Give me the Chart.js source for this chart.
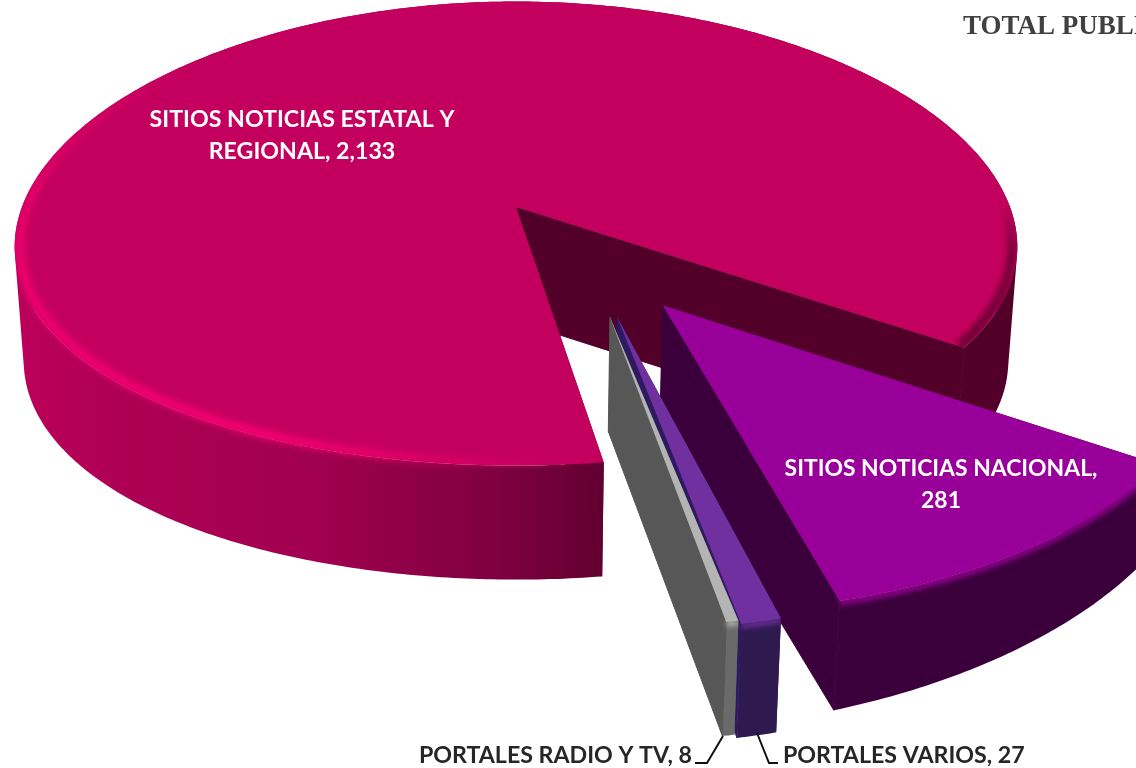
<!DOCTYPE html>
<html><head><meta charset="utf-8">
<style>html,body{margin:0;padding:0;background:#fff;overflow:hidden}canvas{display:block}</style>
<script src="https://cdn.jsdelivr.net/npm/chart.js@4"></script>
</head><body><canvas id="c" width="1136" height="768"></canvas>
<script>
const categories = ['SITIOS NOTICIAS ESTATAL Y REGIONAL','SITIOS NOTICIAS NACIONAL','PORTALES VARIOS','PORTALES RADIO Y TV'];
const values = [2133,281,27,8];
const topColors = ['#C4005E','#990099','#7030A0','#B4B4B4'];
const cutColors = ['#52002A','#3B003B','#2E1A5E','#575757'];
const titleText = 'TOTAL PUBLI';

// projection of the pie disk, and how each slice is pulled out of it
const view = {cx:516, y0:207, R:498, a:229, ky:0.1145, depth:114, shrink:0.018};
const pull = [
  {du:0,    dv:0,    s:1,    sx:0.992, kx:0.17, rot:1.5, dt:0},
  {du:0.283,dv:0.409,s:1.065,sx:1, kx:0.095, rot:0, dt:0.25},
  {du:0.197,dv:0.457,s:1.07, sx:1, kx:0.07, rot:0, dt:0},
  {du:0.181,dv:0.457,s:1.06, sx:1, kx:0.09, rot:0, dt:0}
];
function proj(u,v,z,p){
  return [view.cx + view.R*p.sx*u*(1-view.shrink*z)/(1-p.kx*v),
          view.y0 + view.a*v/(1-view.ky*v) + view.depth*z*(1-p.dt*(u-0.4))];
}
function trace(ctx,pts){ pts.forEach((q,k)=>k?ctx.lineTo(q[0],q[1]):ctx.moveTo(q[0],q[1])); ctx.closePath(); }
function oriented(q){ let s=0; q.forEach((p,i)=>{const r=q[(i+1)%q.length]; s+=p[0]*r[1]-r[0]*p[1];}); return s<0?q.slice().reverse():q; }

const pie3d = {
  id:'pie3d',
  beforeDatasetsDraw(chart){
    const ctx = chart.ctx, arcs = chart.getDatasetMeta(0).data;
    arcs.forEach((el,i)=>{
      const p = pull[i], shift = p.rot*Math.PI/180, a0 = el.startAngle+shift, a1 = el.endAngle+shift;
      const n = Math.max(8,Math.ceil((a1-a0)*90));
      const pt = (r,a,z)=>proj(p.du+r*p.s*Math.cos(a),p.dv+r*p.s*Math.sin(a),z,p);
      const arcAt = (z,r=1)=>{const o=[];for(let k=0;k<=n;k++)o.push(pt(r,a0+(a1-a0)*k/n,z));return o;};
      const apexT = pt(0,0,0), apexB = pt(0,0,1);
      const top = [apexT,...arcAt(0)], rimT = arcAt(0), rimB = arcAt(1);
      const cut0 = [apexT,pt(1,a0,0),pt(1,a0,1),apexB];
      const cut1 = [apexT,pt(1,a1,0),pt(1,a1,1),apexB];
      const wallQuads = [];
      for(let k=0;k<n;k++) wallQuads.push(oriented([rimT[k],rimT[k+1],rimB[k+1],rimB[k]]));
      // hidden cut face, outer wall, then the visible cut face
      ctx.fillStyle = ctx.strokeStyle = cutColors[i]; ctx.lineWidth = 1;
      ctx.beginPath(); trace(ctx,cut0); ctx.fill();
      let wf;
      if(i===0){ wf = ctx.createLinearGradient(14,0,1017,0);
        wf.addColorStop(0,'#BC005B'); wf.addColorStop(0.1,'#AE0054'); wf.addColorStop(0.3,'#A10050');
        wf.addColorStop(0.48,'#7E0040'); wf.addColorStop(0.59,'#620030'); wf.addColorStop(0.9,'#52002A'); wf.addColorStop(1,'#52002A');
      } else wf = ['','#3B003B','#2E1A4E','#6A6A6A'][i];
      ctx.fillStyle = wf; ctx.beginPath(); wallQuads.forEach(q=>trace(ctx,q)); ctx.fill();
      ctx.fillStyle = ctx.strokeStyle = cutColors[i];
      ctx.beginPath(); trace(ctx,cut1); ctx.fill(); ctx.stroke();
      // top face
      ctx.fillStyle = el.options.backgroundColor;
      ctx.beginPath(); trace(ctx,top); ctx.fill();
      // soft bevel between the top face and the wall
      ctx.save();
      ctx.beginPath(); [top,cut0,cut1,...wallQuads].forEach(q=>trace(ctx,oriented(q))); ctx.clip();
      if(i>0){
        ctx.strokeStyle = el.options.backgroundColor; ctx.lineWidth = 5; ctx.filter = 'blur(2.5px)';
        ctx.beginPath(); rimT.forEach((q,k)=>k?ctx.lineTo(q[0],q[1]+2):ctx.moveTo(q[0],q[1]+2)); ctx.stroke();
      } else {
        const g = ctx.createConicGradient(0,515,250);
        [[0,'rgba(84,0,40,.7)'],[0.035,'rgba(84,0,40,.85)'],[0.05,'rgba(84,0,40,0)'],
         [0.21,'rgba(245,0,112,0)'],[0.30,'rgba(245,0,112,.4)'],[0.40,'rgba(248,0,115,.95)'],
         [0.5,'rgba(245,0,112,.85)'],[0.54,'rgba(245,0,112,.35)'],[0.58,'rgba(245,0,112,0)'],
         [0.985,'rgba(84,0,40,0)'],[1,'rgba(84,0,40,.7)']]
          .forEach(s=>g.addColorStop(s[0],s[1]));
        ctx.strokeStyle = g; ctx.lineWidth = 9; ctx.filter = 'blur(3px)';
        const r = arcAt(0,0.99);
        ctx.beginPath(); r.forEach((q,k)=>k?ctx.lineTo(q[0],q[1]):ctx.moveTo(q[0],q[1])); ctx.stroke();
      }
      ctx.restore();
    });
    return false;
  },
  afterDraw(chart){
    const ctx = chart.ctx;
    const fmt = v=>v.toLocaleString('en-US');
    ctx.save();
    ctx.textBaseline = 'alphabetic';
    ctx.font = 'bold 23.2px Lato'; ctx.fillStyle = '#fff'; ctx.textAlign = 'center';
    ctx.fillText('SITIOS NOTICIAS ESTATAL Y',302,127);
    ctx.fillText('REGIONAL, '+fmt(values[0]),302,159);
    ctx.font = 'bold 22.9px Lato';
    ctx.fillText(categories[1]+',',941,476);
    ctx.fillText(fmt(values[1]),941,508);
    ctx.font = 'bold 23.2px Lato';
    ctx.fillStyle = '#262626';
    ctx.textAlign = 'right'; ctx.fillText(categories[3]+', '+fmt(values[3]),692,763);
    ctx.textAlign = 'left';  ctx.fillText(categories[2]+', '+fmt(values[2]),783,763);
    ctx.font = 'bold 27px "Liberation Serif"'; ctx.fillStyle = '#404040';
    ctx.fillText(titleText,963,34);
    ctx.strokeStyle = '#111'; ctx.lineWidth = 2;
    ctx.beginPath(); ctx.moveTo(723,736); ctx.lineTo(707,763); ctx.lineTo(695,763); ctx.stroke();
    ctx.beginPath(); ctx.moveTo(757,733); ctx.lineTo(769,763); ctx.lineTo(778,763); ctx.stroke();
    ctx.restore();
  }
};

new Chart(document.getElementById('c'),{
  type:'pie',
  data:{labels:categories,datasets:[{data:values,backgroundColor:topColors,borderWidth:0}]},
  options:{responsive:false,animation:false,rotation:170,
    plugins:{legend:{display:false},tooltip:{enabled:false}}},
  plugins:[pie3d]
});
</script></body></html>
